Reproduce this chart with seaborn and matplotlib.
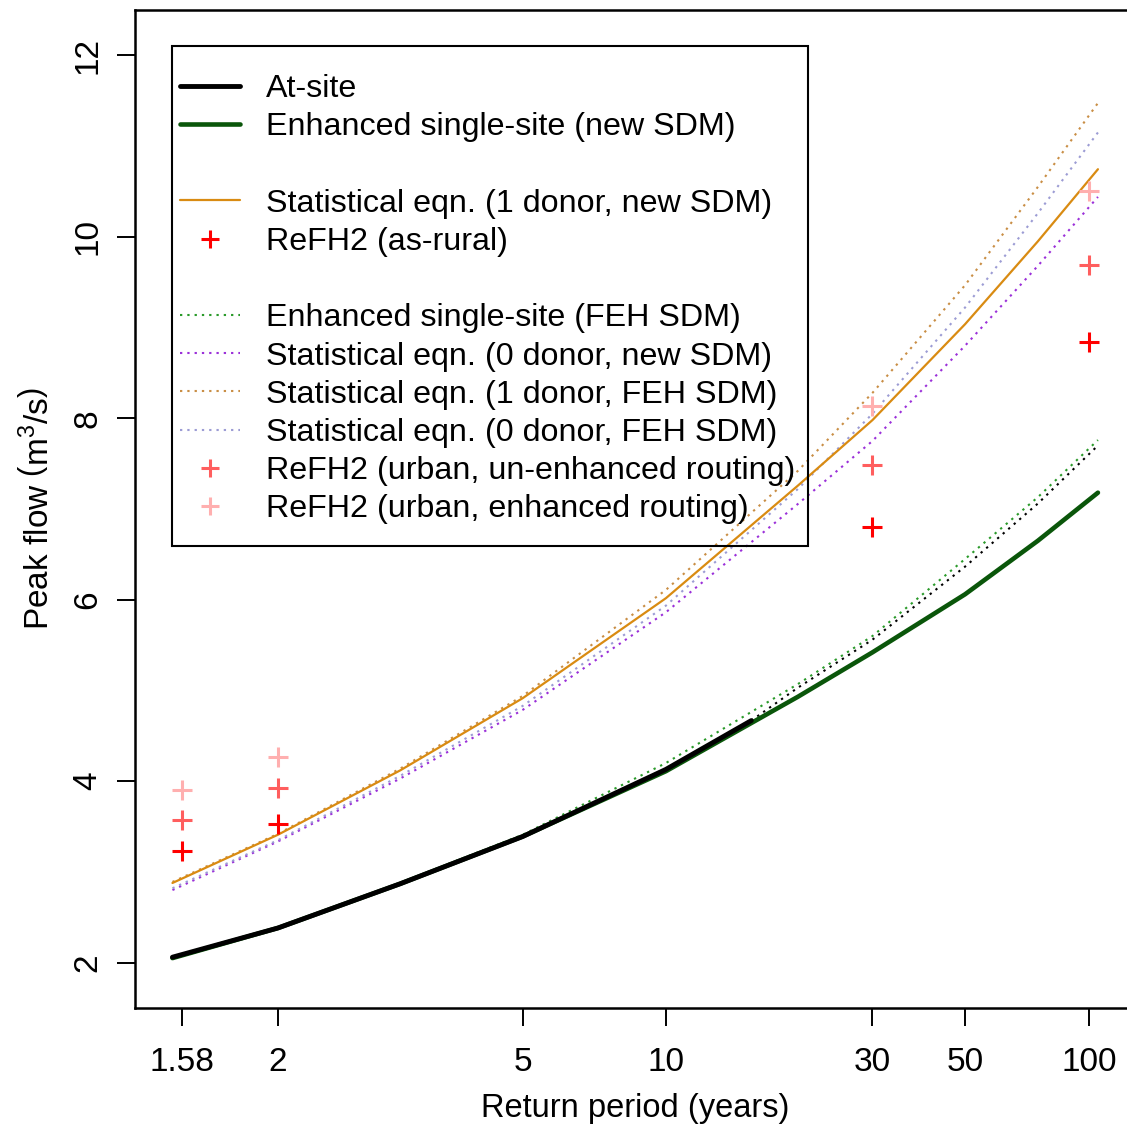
import numpy as np
import pandas as pd
import matplotlib
matplotlib.use("Agg")
import matplotlib.pyplot as plt
from matplotlib.lines import Line2D
from matplotlib.patches import Rectangle
import seaborn as sns

# ---- flood frequency curves (return period in years, peak flow in m3/s) ----
T_curve = [1.55, 2, 3, 5, 10, 20, 30, 50, 75, 105]
ess_new = [2.05, 2.382, 2.87, 3.391, 4.11, 4.93, 5.42, 6.06, 6.65, 7.18]
ess_feh = [2.06, 2.39, 2.88, 3.41, 4.20, 5.07, 5.60, 6.449, 7.13, 7.76]
stat1_new = [2.878, 3.41, 4.12, 4.915, 6.017, 7.257, 7.98, 9.037, 9.95, 10.745]
stat0_new = [2.80, 3.336, 4.03, 4.786, 5.862, 7.055, 7.75, 8.80, 9.68, 10.44]
stat1_feh = [2.89, 3.42, 4.14, 4.94, 6.108, 7.42, 8.28, 9.467, 10.55, 11.475]
stat0_feh = [2.82, 3.35, 4.06, 4.83, 5.935, 7.22, 8.05, 9.221, 10.26, 11.15]

# at-site curve: fitted range and its extrapolation
T_atsite = [1.55, 2, 3, 5, 10, 15.6]
atsite = [2.06, 2.382, 2.87, 3.39, 4.13, 4.668]
T_atsite_ext = [15.6, 20, 30, 50, 75, 105]
atsite_ext = [4.668, 5.03, 5.56, 6.365, 7.06, 7.70]

# ReFH2 design events
T_refh = [1.58, 2, 30, 100]
refh_rural = [3.226, 3.531, 6.798, 8.839]
refh_urban = [3.575, 3.924, 7.485, 9.687]
refh_urban_enh = [3.898, 4.272, 8.138, 10.502]

x_ticks = [1.58, 2, 5, 10, 30, 50, 100]
x_tick_labels = ["1.58", "2", "5", "10", "30", "50", "100"]
y_ticks = [2, 4, 6, 8, 10, 12]

sns.set_style("ticks")
FONT = ["Liberation Sans", "DejaVu Sans"]
plt.rcParams["font.family"] = FONT
plt.rcParams["mathtext.fontset"] = "custom"
plt.rcParams["mathtext.rm"] = FONT[0]
plt.rcParams["mathtext.it"] = FONT[0]
for key in ["text.color", "axes.labelcolor", "xtick.color", "ytick.color",
            "axes.edgecolor"]:
    plt.rcParams[key] = "black"

W, H = 1127, 1124
fig = plt.figure(figsize=(W / 100, H / 100), dpi=100)
ax = fig.add_axes([135 / W, 1 - 1008 / H, 1001 / W, 998 / H])

# logistic reduced variate axis: x = ln(T - 1)
def fwd(t):
    t = np.asarray(t, dtype=float)
    return np.log(np.clip(t - 1.0, 1e-12, None))

def inv(r):
    return 1.0 + np.exp(np.asarray(r, dtype=float))

ax.set_xscale("function", functions=(fwd, inv))

DOT = (0, (1.1, 2.4))
C_ORANGE = "#D98B12"
C_ORANGE_D = "#C98E45"
C_PURPLE = "#9B30D9"
C_LAV = "#9C9CD4"
C_GREEN = "#0A560A"
C_GREEN_D = "#2A9A2A"

def curve(x, y, **kw):
    df = pd.DataFrame({"T": x, "Q": y})
    sns.lineplot(data=df, x="T", y="Q", ax=ax, estimator=None, sort=False, **kw)

curve(T_curve, ess_feh, color=C_GREEN_D, lw=1.5, linestyle=DOT)
curve(T_atsite_ext, atsite_ext, color="black", lw=1.5, linestyle=DOT)
curve(T_curve, stat0_new, color=C_PURPLE, lw=1.5, linestyle=DOT)
curve(T_curve, stat1_feh, color=C_ORANGE_D, lw=1.5, linestyle=DOT)
curve(T_curve, stat0_feh, color=C_LAV, lw=1.5, linestyle=DOT)
curve(T_curve, stat1_new, color=C_ORANGE, lw=1.6)
curve(T_curve, ess_new, color=C_GREEN, lw=3.3)
curve(T_atsite, atsite, color="black", lw=3.5)

C_R1, C_R2, C_R3 = "#FF0000", "#FF5E5E", "#FFAFAF"
for yv, c in [(refh_urban_enh, C_R3), (refh_urban, C_R2), (refh_rural, C_R1)]:
    df = pd.DataFrame({"T": T_refh, "Q": yv})
    sns.scatterplot(data=df, x="T", y="Q", ax=ax, marker="+", s=190,
                    color=c, linewidth=2.2, zorder=5)

ax.set_xlim(1 + np.exp(-0.81), 1 + np.exp(4.86))
ax.set_ylim(1.5, 12.5)
ax.set_xticks(x_ticks)
ax.set_xticklabels(x_tick_labels)
ax.xaxis.set_minor_locator(matplotlib.ticker.NullLocator())
ax.set_yticks(y_ticks)
ax.set_yticklabels([str(v) for v in y_ticks], rotation=90, va="center")

for sp in ax.spines.values():
    sp.set_visible(True)
    sp.set_linewidth(1.8)
    sp.set_color("black")
ax.tick_params(axis="both", direction="out", length=13, width=1.4,
               colors="black", labelsize=24)
ax.tick_params(axis="x", pad=15)
ax.tick_params(axis="y", pad=10)

ax.set_xlabel("Return period (years)", fontsize=23.5, labelpad=11)
ax.set_ylabel(r"Peak flow $\left(\mathrm{m^3/s}\right)$", fontsize=24, labelpad=12)

# legend
blank = Line2D([], [], linestyle="none")
handles = [
    Line2D([], [], color="black", lw=3.5),
    Line2D([], [], color=C_GREEN, lw=3.3),
    blank,
    Line2D([], [], color=C_ORANGE, lw=1.6),
    Line2D([], [], ls="none", marker="+", ms=13, mew=2.2, color=C_R1),
    blank,
    Line2D([], [], color=C_GREEN_D, lw=1.5, linestyle=DOT),
    Line2D([], [], color=C_PURPLE, lw=1.5, linestyle=DOT),
    Line2D([], [], color=C_ORANGE_D, lw=1.5, linestyle=DOT),
    Line2D([], [], color=C_LAV, lw=1.5, linestyle=DOT),
    Line2D([], [], ls="none", marker="+", ms=13, mew=2.2, color=C_R2),
    Line2D([], [], ls="none", marker="+", ms=13, mew=2.2, color=C_R3),
]
labels = [
    "At-site",
    "Enhanced single-site (new SDM)",
    " ",
    "Statistical eqn. (1 donor, new SDM)",
    "ReFH2 (as-rural)",
    " ",
    "Enhanced single-site (FEH SDM)",
    "Statistical eqn. (0 donor, new SDM)",
    "Statistical eqn. (1 donor, FEH SDM)",
    "Statistical eqn. (0 donor, FEH SDM)",
    "ReFH2 (urban, un-enhanced routing)",
    "ReFH2 (urban, enhanced routing)",
]
fig.legend(handles, labels, loc="upper left",
           bbox_to_anchor=(180 / W, 1 - 74 / H), bbox_transform=fig.transFigure,
           frameon=False, fontsize=23.2, borderpad=0, borderaxespad=0,
           handlelength=1.85, handletextpad=0.82, labelspacing=0.255)
fig.add_artist(Rectangle((172 / W, 1 - 546 / H), 636 / W, 500 / H,
                         transform=fig.transFigure, fill=False,
                         lw=1.5, ec="black", zorder=10))

fig.savefig("out.png", dpi=100, facecolor="white")
